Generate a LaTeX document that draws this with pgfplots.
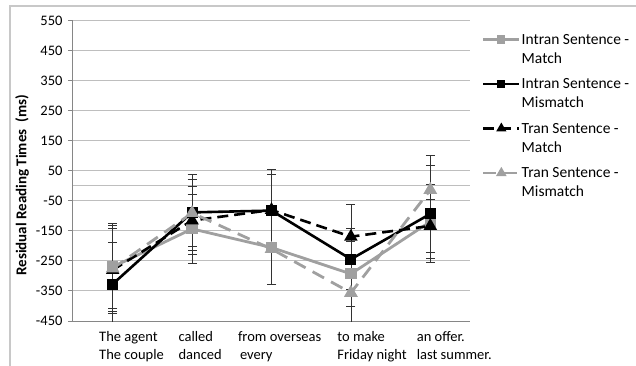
\documentclass[border=0pt]{standalone}
\usepackage{pgfplots}
\pgfplotsset{compat=1.18}
\usepackage{fontspec}
\setmainfont{Carlito}
\definecolor{lg}{RGB}{160,160,160}
\definecolor{gridc}{RGB}{190,190,190}
\definecolor{axc}{RGB}{134,134,134}
\definecolor{errc}{RGB}{50,50,50}
\definecolor{framec}{RGB}{200,200,200}
\begin{document}
\begin{tikzpicture}
\begin{axis}[
  at={(0pt,0pt)}, anchor=south west, scale only axis, width=397pt, height=300pt,
  xmin=-0.5, xmax=4.5, ymin=-450, ymax=550,
  ytick={-450,-350,...,550},
  xtick={0,1,2,3,4},
  xticklabels={{The agent\\The couple},{called\\danced},{\hspace*{-20pt}from overseas\\\hspace*{-18pt}every},{to make\\Friday night},{an offer.\\last summer.}},
  axis lines=left,
  axis line style={-, draw=axc, line width=1pt},
  ymajorgrids, grid style={gridc, line width=1pt},
  extra y ticks={0}, extra y tick labels={},
  extra y tick style={grid=major, major tick length=0pt},
  tick align=outside, major tick length=5pt,
  ytick style={draw=axc, line width=1pt},
  xtick style={draw=none},
  /pgf/number format/assume math mode=true,
  yticklabel style={font=\fontsize{14.5}{16}\selectfont, xshift=-2pt},
  xticklabel style={font=\fontsize{14.5}{18}\selectfont, anchor=north west, align=left, xshift=-17pt, yshift=-2pt},
  ylabel={Residual Reading Times\ \ (ms)},
  ylabel style={font=\bfseries\fontsize{15}{18}\selectfont, at={(axis description cs:-0.128,0.452)}, anchor=center},
  legend style={at={(1.022,0.967)}, anchor=north west, draw=none, fill=none,
    font=\fontsize{15.5}{19}\selectfont, nodes={align=left, inner sep=1pt}, row sep=12pt},
  legend cell align=left,
  legend image code/.code={\draw[mark repeat=2, mark phase=2, #1, yshift=10pt, /tikz/every mark/.append style={scale=0.65}] plot coordinates {(0pt,0pt) (18pt,0pt) (36pt,0pt)};},
  error bars/error bar style={errc, line width=0.8pt, solid},
  error bars/error mark options={errc, line width=0.8pt, solid, mark size=4.5pt, rotate=90},
]
\addplot[lg, line width=2.8pt, mark=square*, mark size=4.2pt, mark options={solid, fill=lg, draw=lg},
  error bars/.cd, y dir=both, y explicit]
  coordinates {(0,-270) +- (0,138) (1,-143) +- (0,116) (2,-205) +- (0,123) (3,-293) +- (0,109) (4,-119) +- (0,124)};
\addlegendentry{Intran Sentence -\\Match}
\addplot[black, line width=2.6pt, mark=square*, mark size=4.2pt, mark options={solid, fill=black, draw=black},
  error bars/.cd, y dir=both, y explicit]
  coordinates {(0,-327) +- (0,139) (1,-88) +- (0,126) (2,-82) +- (0,137) (3,-244) +- (0,101) (4,-93) +- (0,162)};
\addlegendentry{Intran Sentence -\\Mismatch}
\addplot[black, line width=2.6pt, dash pattern=on 11pt off 6pt, mark=triangle*, mark size=5.2pt, mark options={solid, fill=black, draw=black},
  error bars/.cd, y dir=both, y explicit]
  coordinates {(0,-280) +- (0,139) (1,-115) +- (0,114) (2,-80) +- (0,120) (3,-169) +- (0,106) (4,-133) +- (0,88)};
\addlegendentry{Tran Sentence -\\Match}
\addplot[lg, line width=2.8pt, dash pattern=on 13pt off 8pt, mark=triangle*, mark size=5.2pt, mark options={solid, fill=lg, draw=lg},
  error bars/.cd, y dir=both, y explicit]
  coordinates {(0,-275) +- (0,150) (1,-90) +- (0,111) (2,-210) +- (0,118) (3,-356) +- (0,120) (4,-13) +- (0,116)};
\addlegendentry{Tran Sentence -\\Mismatch}
\end{axis}
\pgfresetboundingbox
\useasboundingbox (-73pt,-45pt) rectangle (563pt,321pt);
\draw[framec, line width=1.5pt] (-63pt,-46pt) -- (-63pt,315pt) -- (564pt,315pt);
\end{tikzpicture}
\end{document}
